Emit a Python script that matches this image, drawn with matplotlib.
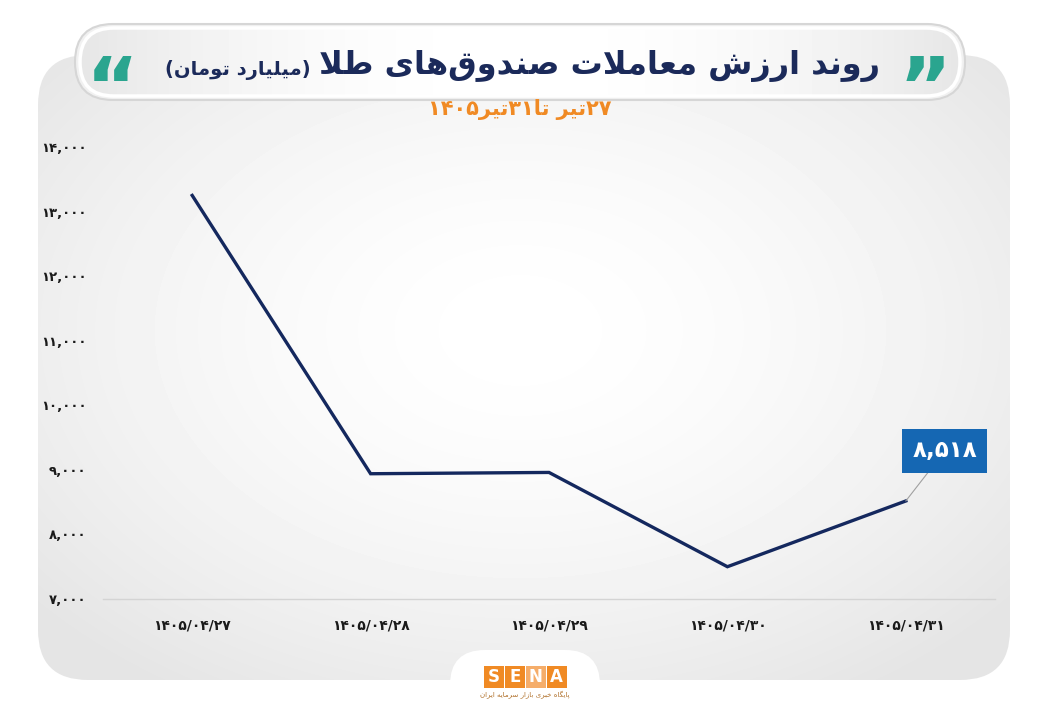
import numpy as np
import matplotlib
matplotlib.use('Agg')
import matplotlib.pyplot as plt
from matplotlib.patches import FancyBboxPatch, Rectangle

# داده‌ها
dates = ['۱۴۰۵/۰۴/۲۷', '۱۴۰۵/۰۴/۲۸', '۱۴۰۵/۰۴/۲۹', '۱۴۰۵/۰۴/۳۰', '۱۴۰۵/۰۴/۳۱']
values = [13250, 8940, 8960, 7500, 8518]
y_ticks = [7000, 8000, 9000, 10000, 11000, 12000, 13000, 14000]

title_main = 'روند ارزش معاملات صندوق\u200cهای طلا'
title_unit = '(میلیارد تومان)'
subtitle = '۲۷تیر تا۳۱تیر۱۴۰۵'
logo_sub = 'پایگاه خبری بازار سرمایه ایران'

FA_DIGITS = str.maketrans('0123456789', '۰۱۲۳۴۵۶۷۸۹')


def fa_num(v):
    return '{:,}'.format(int(v)).translate(FA_DIGITS)


# شکل‌دهی ساده حروف فارسی (matplotlib خودش این کار را نمی‌کند)
FORMS = {
    'آ': (0xFE81, 0xFE82, None, None),
    'ا': (0xFE8D, 0xFE8E, None, None),
    'ب': (0xFE8F, 0xFE90, 0xFE91, 0xFE92),
    'پ': (0xFB56, 0xFB57, 0xFB58, 0xFB59),
    'ت': (0xFE95, 0xFE96, 0xFE97, 0xFE98),
    'خ': (0xFEA5, 0xFEA6, 0xFEA7, 0xFEA8),
    'د': (0xFEA9, 0xFEAA, None, None),
    'ر': (0xFEAD, 0xFEAE, None, None),
    'ز': (0xFEAF, 0xFEB0, None, None),
    'س': (0xFEB1, 0xFEB2, 0xFEB3, 0xFEB4),
    'ش': (0xFEB5, 0xFEB6, 0xFEB7, 0xFEB8),
    'ص': (0xFEB9, 0xFEBA, 0xFEBB, 0xFEBC),
    'ط': (0xFEC1, 0xFEC2, 0xFEC3, 0xFEC4),
    'ع': (0xFEC9, 0xFECA, 0xFECB, 0xFECC),
    'ق': (0xFED5, 0xFED6, 0xFED7, 0xFED8),
    'گ': (0xFB92, 0xFB93, 0xFB94, 0xFB95),
    'ل': (0xFEDD, 0xFEDE, 0xFEDF, 0xFEE0),
    'م': (0xFEE1, 0xFEE2, 0xFEE3, 0xFEE4),
    'ن': (0xFEE5, 0xFEE6, 0xFEE7, 0xFEE8),
    'ه': (0xFEE9, 0xFEEA, 0xFEEB, 0xFEEC),
    'و': (0xFEED, 0xFEEE, None, None),
    'ی': (0xFBFC, 0xFBFD, 0xFBFE, 0xFBFF),
}
LAMALEF = {'ا': (0xFEFB, 0xFEFC), 'آ': (0xFEF5, 0xFEF6)}
MIRROR = {'(': ')', ')': '('}


def dual(c):
    return c in FORMS and FORMS[c][2] is not None


def shape(s):
    out = []
    i = 0
    n = len(s)
    while i < n:
        c = s[i]
        if c not in FORMS:
            if c != '\u200c':
                out.append(c)
            i += 1
            continue
        prev = s[i - 1] if i > 0 else ''
        join_prev = dual(prev)
        if c == 'ل' and i + 1 < n and s[i + 1] in LAMALEF:
            iso, fin = LAMALEF[s[i + 1]]
            out.append(chr(fin if join_prev else iso))
            i += 2
            continue
        nxt = s[i + 1] if i + 1 < n else ''
        join_next = dual(c) and nxt in FORMS
        iso, fin, ini, med = FORMS[c]
        if join_prev and join_next:
            out.append(chr(med))
        elif join_prev:
            out.append(chr(fin))
        elif join_next:
            out.append(chr(ini))
        else:
            out.append(chr(iso))
        i += 1
    return ''.join(out)


def fa(s):
    # شکل‌دهی و سپس چینش راست به چپ؛ اعداد چپ به راست می‌مانند
    s = shape(s)
    runs = []
    for c in s:
        ltr = c in '۰۱۲۳۴۵۶۷۸۹0123456789' or (c in ',/.' and runs and runs[-1][0])
        if runs and runs[-1][0] == ltr:
            runs[-1][1].append(c)
        else:
            runs.append([ltr, [c]])
    res = []
    for ltr, chars in reversed(runs):
        if ltr:
            res.append(''.join(chars))
        else:
            res.append(''.join(MIRROR.get(c, c) for c in reversed(chars)))
    return ''.join(res)


plt.rcParams['font.family'] = ['DejaVu Sans']

W, H = 1040, 720
fig = plt.figure(figsize=(W / 100, H / 100), dpi=100)
fig.patch.set_facecolor('white')

# لایه پس‌زمینه با مختصات پیکسلی
bg = fig.add_axes([0, 0, 1, 1], zorder=-10)
bg.set_xlim(0, W)
bg.set_ylim(H, 0)
bg.axis('off')

panel = FancyBboxPatch((38, 55), 972, 625, boxstyle='round,pad=0,rounding_size=50',
                       facecolor='none', edgecolor='none')
bg.add_patch(panel)
yy, xx = np.mgrid[0:H, 0:W]
r = np.sqrt(((xx - 520) / 620.0) ** 2 + ((yy - 330) / 420.0) ** 2)
grad = np.clip(1.0 - 0.10 * r ** 1.6, 0.895, 1.0)
im = bg.imshow(grad, cmap='gray', vmin=0, vmax=1, extent=(0, W, H, 0), zorder=0)
im.set_clip_path(panel)

# قاب عنوان
pill = FancyBboxPatch((75, 24), 890, 76, boxstyle='round,pad=0,rounding_size=38',
                      facecolor='#f1f1f1', edgecolor='#d6d6d6', lw=1.5, zorder=2)
bg.add_patch(pill)
pill_in = FancyBboxPatch((80, 28), 880, 68, boxstyle='round,pad=0,rounding_size=34',
                         facecolor='none', edgecolor='white', lw=2.5, zorder=3)
bg.add_patch(pill_in)
g2 = np.clip(1.0 - 0.10 * (np.abs(xx - 520) / 445.0) ** 2, 0.88, 1.0)
im2 = bg.imshow(g2, cmap='gray', vmin=0, vmax=1, extent=(0, W, H, 0), zorder=2.5)
im2.set_clip_path(pill_in)

# زبانه لوگو
tab = FancyBboxPatch((450, 650), 150, 120, boxstyle='round,pad=0,rounding_size=35',
                     facecolor='white', edgecolor='none', zorder=2)
bg.add_patch(tab)
box_cols = ['#f08a24', '#f08a24', '#f5ad6a', '#f08a24']
for k, (ch, col) in enumerate(zip('SENA', box_cols)):
    bg.add_patch(Rectangle((484 + k * 21, 666), 19.5, 22, facecolor=col, edgecolor='none', zorder=3))
    bg.text(484 + k * 21 + 9.75, 677.5, ch, color='white', fontsize=12, fontweight='bold',
            ha='center', va='center', zorder=4)
bg.text(525, 695, fa(logo_sub), color='#b0702a', fontsize=5, ha='center', va='center', zorder=4)

# عنوان
t_main = bg.text(880, 66, fa(title_main), color='#1b2a5a', fontsize=23, fontweight='bold',
                 ha='right', va='center', zorder=5)
fig.canvas.draw()
bb = t_main.get_window_extent().transformed(bg.transData.inverted())
x_left = min(bb.x0, bb.x1)
bg.text(x_left - 8, 70, fa(title_unit), color='#1b2a5a', fontsize=14, fontweight='bold',
        ha='right', va='center', zorder=5)
bg.text(925, 93, '\u201d', color='#2aa58f', fontsize=58, fontweight='bold',
        ha='center', va='center', zorder=5)
bg.text(112, 93, '\u201c', color='#2aa58f', fontsize=58, fontweight='bold',
        ha='center', va='center', zorder=5)
bg.text(520, 109, fa(subtitle), color='#f08a24', fontsize=15, fontweight='bold',
        ha='center', va='center', zorder=5)

# نمودار
ax = fig.add_axes([103 / W, 1 - 599 / H, (995 - 103) / W, (599 - 147) / H])
ax.patch.set_alpha(0)
x = np.arange(len(values))
ax.plot(x, values, color='#14285e', lw=2.4, solid_joinstyle='miter', zorder=3)
ax.set_xlim(-0.5, len(values) - 0.5)
ax.set_ylim(7000, 14000)
ax.set_yticks(y_ticks)
ax.set_yticklabels([fa_num(v) for v in y_ticks], fontsize=9.5, fontweight='bold', color='#1a1a1a')
ax.set_xticks(x)
ax.set_xticklabels(dates, fontsize=10, fontweight='bold', color='#1a1a1a')
ax.tick_params(axis='y', length=0, pad=12)
ax.tick_params(axis='x', length=0, pad=14)
for s in ['top', 'right', 'left']:
    ax.spines[s].set_visible(False)
ax.spines['bottom'].set_color('#d4d4d4')
ax.spines['bottom'].set_linewidth(1)

ax.annotate(fa_num(values[-1]), xy=(x[-1], values[-1]), xytext=(28, 36), textcoords='offset points',
            ha='center', va='center', color='white', fontsize=16.5, fontweight='bold',
            bbox=dict(boxstyle='square,pad=0.45', facecolor='#1567b3', edgecolor='none'),
            arrowprops=dict(arrowstyle='-', color='#a0a0a0', lw=0.8, shrinkA=0, shrinkB=0),
            annotation_clip=False, zorder=5)

fig.savefig('out.png', dpi=100, facecolor='white')
